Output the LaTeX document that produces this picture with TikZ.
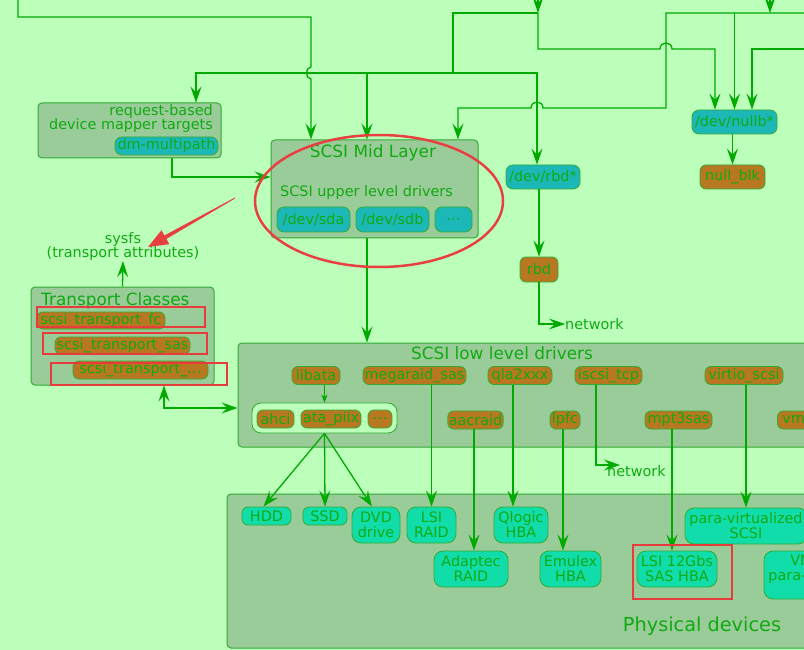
\documentclass[tikz,border=0pt]{standalone}
\usepackage{fontspec}
\setmainfont{DejaVu Sans}
\usetikzlibrary{arrows.meta,calc}
\definecolor{bgc}{RGB}{187,255,187}
\definecolor{boxc}{RGB}{153,204,153}
\definecolor{lnc}{RGB}{0,170,0}
\definecolor{txc}{RGB}{17,170,17}
\definecolor{bdc}{RGB}{51,170,51}
\definecolor{tealc}{RGB}{28,184,184}
\definecolor{brownc}{RGB}{184,120,34}
\definecolor{aquac}{RGB}{17,221,170}
\definecolor{redc}{RGB}{232,64,64}
\definecolor{redr}{RGB}{232,60,60}
\begin{document}
\begin{tikzpicture}[x=1pt,y=-1pt,
 sz/.style 2 args={minimum width=#1pt,minimum height=#2pt},
 lbl/.style={font=\fontsize{14.4}{15}\selectfont, text=txc},
 ttl/.style={font=\fontsize{16.9}{18}\selectfont, text=txc, inner sep=0pt},
 nd/.style={lbl, draw=bdc, line width=0.8pt, inner sep=1pt, align=center},
 tealbox/.style={nd, fill=tealc, rounded corners=7pt},
 brownbox/.style={nd, fill=brownc, rounded corners=6pt},
 physbox/.style={nd, fill=aquac, rounded corners=9pt},
 contbox/.style={draw=bdc, fill=bgc, line width=0.8pt, rounded corners=9pt},
 bigbox/.style={draw=bdc, fill=boxc, line width=1pt, rounded corners=4pt, inner sep=0pt},
 ln/.style={draw=lnc, line width=1.3pt},
 arr/.style={ln, -{Stealth[length=16pt,width=11pt,inset=6pt]}},
 arrs/.style={ln, -{Stealth[length=8pt,width=6pt,inset=2.5pt]}},
 darr/.style={ln, {Stealth[length=16pt,width=11pt,inset=6pt]}-{Stealth[length=16pt,width=11pt,inset=6pt]}},
 redann/.style={draw=redr, line width=1.3pt}
]
\useasboundingbox (0,0) rectangle (804,650);
\clip (0,0) rectangle (804,650);
\fill[bgc] (-5,-5) rectangle (810,660);

% big boxes
\node[bigbox, sz={183}{55}] (reqbox) at (129.5,130.5) {};
\node[bigbox, sz={207}{98}] (mid) at (374.5,189) {};
\node[bigbox, sz={183}{98}] (transport) at (122.5,336) {};
\node[bigbox, sz={592}{104}] (lld) at (534,395) {};
\node[bigbox, sz={603}{154}] (phys) at (528.5,571) {};

% titles and labels
\node[lbl, anchor=east, inner sep=0pt] (reqt1) at (213,112) {request-based};
\node[lbl, anchor=east, inner sep=0pt] (reqt2) at (213,126) {device mapper targets};
\node[ttl] (midt) at (373,153) {SCSI Mid Layer};
\node[lbl, anchor=west, inner sep=0pt] (uld) at (280,193) {SCSI upper level drivers};
\node[ttl, anchor=west] (trt) at (41,301) {Transport Classes};
\node[ttl] (lldt) at (502,353) {SCSI low level drivers};
\node[font=\fontsize{19.3}{20}\selectfont, text=txc, inner sep=0pt] (physt) at (702,626) {Physical devices};
\node[lbl, align=center, inner sep=0pt, font=\fontsize{14.4}{14}\selectfont] (sysfs) at (123,247) {sysfs\\(transport attributes)};

% upper nodes
\node[tealbox, sz={103}{18}] (dm) at (166.5,146) {dm-multipath};
\node[tealbox, sz={73}{25}] (sda) at (313.5,219.5) {/dev/sda};
\node[tealbox, sz={73}{25}] (sdb) at (392.5,219.5) {/dev/sdb};
\node[tealbox, sz={37}{25}] (sdx) at (453.5,219.5) {…};
\node[tealbox, sz={74}{24}] (rbddev) at (543,177) {/dev/rbd*};
\node[brownbox, sz={38}{25}] (rbd) at (539,269.5) {rbd};
\node[tealbox, sz={85}{24}] (nullb) at (734.5,122) {/dev/nullb*};
\node[brownbox, sz={65}{24}] (nullblk) at (732.5,177) {null\_blk};

% transport classes
\node[brownbox, sz={128}{17}] (fc) at (101,320.5) {scsi\_transport\_fc};
\node[brownbox, sz={135}{17}] (sas) at (122.5,345.5) {scsi\_transport\_sas};
\node[brownbox, sz={135}{18}] (tx) at (140.5,370) {scsi\_transport\_…};

% low level drivers
\node[brownbox, sz={48}{18}] (libata) at (316,375.5) {libata};
\node[brownbox, sz={103}{18}] (megaraid) at (414.5,375.5) {megaraid\_sas};
\node[brownbox, sz={64}{18}] (qla) at (520,375.5) {qla2xxx};
\node[brownbox, sz={67}{18}] (iscsi) at (608.5,375.5) {iscsi\_tcp};
\node[brownbox, sz={78}{18}] (virtio) at (744,375.5) {virtio\_scsi};
\node[contbox, sz={145}{30}] (cont) at (324.5,418) {};
\node[brownbox, sz={37}{18}] (ahci) at (275.5,419) {ahci};
\node[brownbox, sz={60}{18}] (atapiix) at (331,419) {ata\_piix};
\node[brownbox, sz={24}{18}] (adots) at (380,419) {…};
\node[brownbox, sz={55}{18}] (aacraid) at (475.5,420) {aacraid};
\node[brownbox, sz={30}{18}] (lpfc) at (565,420) {lpfc};
\node[brownbox, sz={67}{18}] (mpt) at (678.5,420) {mpt3sas};
\node[brownbox, sz={96}{18}, anchor=west] (vmw) at (777,420) {vmw\_pvscsi};

% physical devices
\node[physbox, sz={49}{18}, rounded corners=6pt] (hdd) at (266.5,516) {HDD};
\node[physbox, sz={44}{18}, rounded corners=6pt] (ssd) at (325,516) {SSD};
\node[physbox, sz={48}{36}] (dvd) at (376,525) {DVD\\drive};
\node[physbox, sz={49}{36}] (lsiraid) at (431.5,525) {LSI\\RAID};
\node[physbox, sz={74}{36}] (adaptec) at (471,569) {Adaptec\\RAID};
\node[physbox, sz={54}{36}] (qlogic) at (521,525) {Qlogic\\HBA};
\node[physbox, sz={61}{36}] (emulex) at (570.5,569) {Emulex\\HBA};
\node[physbox, sz={80}{36}] (lsi12) at (677,569) {LSI 12Gbs\\SAS HBA};
\node[physbox, sz={122}{36}] (para) at (746,526) {para-virtualized\\SCSI};
\node[physbox, sz={122}{48}] (vmware) at (825,575) {VMware's\\para-virtualized\\SCSI};

% network labels
\node[lbl, anchor=west, inner sep=0pt] (net1) at (565,324) {network};
\node[lbl, anchor=north west, inner sep=0pt] (net2) at (607,465) {network};
\coordinate (n2) at (620,465);

% top free ends
\coordinate (t1) at (18,0);
\coordinate (t2) at (538,0);
\coordinate (t3) at (770,0);
\coordinate (j1) at (538,13);
\coordinate (j2) at (770,13);
\coordinate (e1) at (810,13);
\coordinate (e2) at (810,49);
\coordinate (j3) at (453,73);

% top connectors
\draw[arr] (t1) |- (311,17) -- (311,67) .. controls (305,67) and (305,79) .. (311,79) -- ([xshift=-63.5pt]mid.north);
\draw[arr] (t2) -- (j1);
\draw[ln] (j1) -- (453,13) -- (j3);
\draw[arr] (j3) -| ([xshift=66.5pt]reqbox.north);
\draw[arr] (j3) -| ([xshift=-7.5pt]mid.north);
\draw[arr] (j3) -| ([xshift=-6pt]rbddev.north);
\draw[arr] (j1) -- (538,49) -- (660,49) .. controls (660,41) and (672,41) .. (672,49) -| ([xshift=-19.5pt]nullb.north);
\draw[arr] (t3) -- (j2);
\draw[arr] (e1) -- (666,13) -- (666,108) -- (543,108) .. controls (543,100) and (531,100) .. (531,108) -| ([xshift=83.5pt]mid.north);
\draw[arr] (nullb.north |- j2) -- (nullb.north);
\draw[arr] (e2) -| ([xshift=17.5pt]nullb.north);

% middle connectors
\draw[arr] ([xshift=42.5pt]reqbox.south) |- ([yshift=12pt]mid.west);
\draw[arr] (nullb.south -| nullblk.north) -- (nullblk.north);
\draw[arr] (rbddev.south -| rbd.north) -- (rbd.north);
\draw[arr] (rbd.south) |- (net1.west);
\draw[arr] (transport.north) -- (sysfs.south);
\draw[arr] ([xshift=-7.5pt]mid.south) -- ([xshift=-7.5pt]mid.south |- lld.north);
\draw[darr] ([xshift=41.5pt]transport.south) |- ([yshift=-13pt]lld.west);

% low level -> physical
\draw[arrs] (libata.south -| cont.north) -- (cont.north);
\draw[arr] (cont.south) -- ([xshift=-3pt]hdd.north);
\draw[arr] (cont.south) -- (ssd.north);
\draw[arr] (cont.south) -- ([xshift=-4pt]dvd.north);
\draw[arr] (megaraid.south -| lsiraid.north) -- (lsiraid.north);
\draw[arr] ([xshift=-1.5pt]aacraid.south) -- ([xshift=-1.5pt]aacraid.south |- adaptec.north);
\draw[arr] ([xshift=-7pt]qla.south) -- ([xshift=-7pt]qla.south |- qlogic.north);
\draw[arr] ([xshift=-2pt]lpfc.south) -- ([xshift=-2pt]lpfc.south |- emulex.north);
\draw[arr] ([xshift=-6.5pt]mpt.south) -- ([xshift=-6.5pt]mpt.south |- lsi12.north);
\draw[arr] ([xshift=2pt]virtio.south) -- ([xshift=2pt]virtio.south |- para.north);
\draw[arr] ([xshift=-12.5pt]iscsi.south) |- (n2);

% red annotations
\draw[draw=redc, line width=2.5pt] (379,201) ellipse [x radius=124, y radius=66];
\fill[redc] (235.2,198.4) -- (166.4,238.9) -- (169.3,244.2) -- (148,247) -- (161.5,230.2) -- (164.4,235.5) -- (234.8,197.6) -- cycle;
\draw[redann] (37,307) rectangle (205,327);
\draw[redann] (43,333) rectangle (207,354);
\draw[redann] (51,363) rectangle (227,385);
\draw[redann] (633,545) rectangle (732,599);
\end{tikzpicture}
\end{document}
